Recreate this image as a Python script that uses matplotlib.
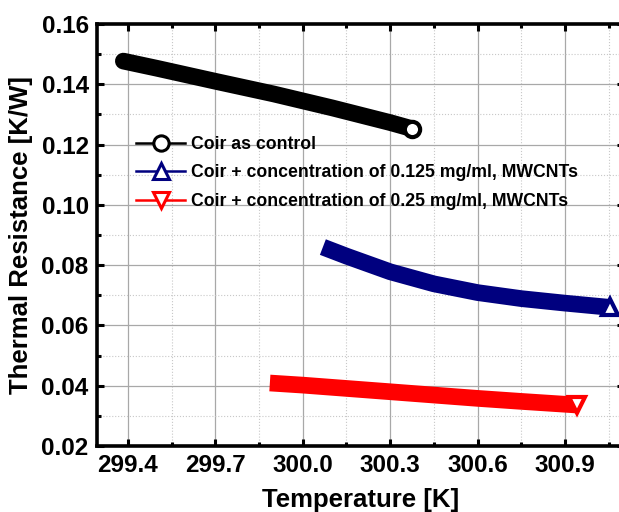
import matplotlib.pyplot as plt
from matplotlib.lines import Line2D
from matplotlib.ticker import MultipleLocator

plt.rcParams['font.family'] = ['Liberation Sans', 'DejaVu Sans']
plt.rcParams['font.weight'] = 'bold'

# values
temp_coir = [299.384, 299.5, 299.7, 299.9, 300.1, 300.3, 300.374]
res_coir = [0.1477, 0.1453, 0.1410, 0.1368, 0.1322, 0.1273, 0.1253]

temp_c125 = [300.069, 300.15, 300.3, 300.45, 300.6, 300.75, 300.9, 301.054]
res_c125 = [0.0860, 0.0830, 0.0778, 0.0738, 0.0709, 0.0689, 0.0674, 0.0660]

temp_c25 = [299.887, 300.0, 300.15, 300.3, 300.45, 300.6, 300.75, 300.94]
res_c25 = [0.0409, 0.0402, 0.0391, 0.0380, 0.0369, 0.0358, 0.0348, 0.0336]

labels = ['Coir as control',
          'Coir + concentration of 0.125 mg/ml, MWCNTs',
          'Coir + concentration of 0.25 mg/ml, MWCNTs']
colors = ['black', '#00007f', '#ff0000']
markers = ['o', '^', 'v']

fig = plt.figure(figsize=(6.19, 5.12), dpi=100)
ax = fig.add_axes([0.1567, 0.1289, 0.852, 0.8242])

series = [(temp_coir, res_coir), (temp_c125, res_c125), (temp_c25, res_c25)]
caps = ['round', 'butt', 'butt']
for (t, r), c, m, cap in zip(series, colors, markers, caps):
    # dense overlapping markers look like a thick band
    ax.plot(t, r, color=c, lw=12, solid_capstyle=cap, solid_joinstyle='round', zorder=3)
    ax.plot(t[-1:], r[-1:], ls='none', marker=m, ms=11, mfc='white', mec=c, mew=3, zorder=4)

ax.set_xlim(299.2936, 301.104)
ax.set_ylim(0.02, 0.16)
ax.xaxis.set_major_locator(MultipleLocator(0.3))
ax.xaxis.set_minor_locator(MultipleLocator(0.15))
ax.yaxis.set_major_locator(MultipleLocator(0.02))
ax.yaxis.set_minor_locator(MultipleLocator(0.01))
ax.xaxis.set_major_formatter(plt.FormatStrFormatter('%.1f'))
ax.yaxis.set_major_formatter(plt.FormatStrFormatter('%.2f'))

ax.grid(which='major', color='#a8a8a8', lw=0.9, ls='-')
ax.grid(which='minor', color='#c8c8c8', lw=0.8, ls=':')
ax.set_axisbelow(True)

for s in ax.spines.values():
    s.set_linewidth(2.6)
ax.tick_params(which='both', direction='in', top=True, right=True, width=2.2,
               labelsize=17.5, pad=6)
ax.tick_params(which='major', length=5)
ax.tick_params(which='minor', length=3)

ax.set_xlabel('Temperature [K]', fontsize=18.5, fontweight='bold', labelpad=8)
ax.set_ylabel('Thermal Resistance [K/W]', fontsize=18.5, fontweight='bold', labelpad=6)

handles = [Line2D([], [], color=c, lw=1.8, marker=m, ms=11, mfc='white', mec=c, mew=2.2)
           for c, m in zip(colors, markers)]
ax.legend(handles, labels, loc='center left', bbox_to_anchor=(0.074, 0.647),
          frameon=False, borderpad=0, borderaxespad=0, handlelength=2.8,
          handletextpad=0.34, labelspacing=0.66, prop={'size': 12.7, 'weight': 'bold'})

fig.savefig('out.png', dpi=100)
